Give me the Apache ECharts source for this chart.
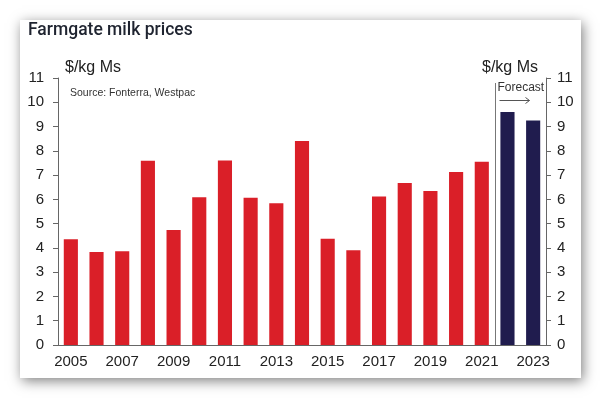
<!DOCTYPE html>
<html>
<head>
<meta charset="utf-8">
<script src="https://cdn.jsdelivr.net/npm/echarts@6/dist/echarts.min.js"></script>
<style>
  html, body { margin: 0; padding: 0; background: #fff; }
  #chart { width: 600px; height: 398px; }
</style>
</head>
<body>
<div id="chart"></div>
<script>
// farmgate milk price, $/kg MS
var years = ["2005", "2006", "2007", "2008", "2009", "2010", "2011", "2012", "2013", "2014",
  "2015", "2016", "2017", "2018", "2019", "2020", "2021", "2022", "2023"];
var prices = [4.36, 3.83, 3.86, 7.59, 4.74, 6.09, 7.6, 6.07, 5.84, 8.4,
  4.38, 3.9, 6.12, 6.67, 6.34, 7.13, 7.55, 9.6, 9.25];
var forecastFrom = "2022";
var yTicks = [0, 11, 1];

var chart = echarts.init(document.getElementById("chart"));
var firstForecast = years.indexOf(forecastFrom);

var barData = prices.map(function (v, i) {
  return {
    value: v,
    itemStyle: { color: i >= firstForecast ? "#201c4e" : "#da1f28" }
  };
});

var axisCommon = {
  type: "value",
  min: yTicks[0],
  max: yTicks[1],
  interval: yTicks[2],
  splitLine: { show: false },
  axisLine: { show: true, lineStyle: { color: "#666", width: 1 } },
  axisTick: { show: true, length: 5, lineStyle: { color: "#666" } },
  axisLabel: { color: "#222", fontSize: 15, fontFamily: "Liberation Sans" }
};

var option = {
  animation: false,
  backgroundColor: "#fff",
  grid: { left: 58, right: 54, top: 78, bottom: 53 },
  xAxis: {
    type: "category",
    data: years,
    axisLine: { lineStyle: { color: "#666" } },
    axisTick: { interval: 0, length: 5, lineStyle: { color: "#666" } },
    axisLabel: { interval: 1, color: "#222", fontSize: 15, margin: 9, fontFamily: "Liberation Sans" }
  },
  yAxis: [
    Object.assign({}, axisCommon, { position: "left", axisLabel: Object.assign({}, axisCommon.axisLabel, { margin: 14 }) }),
    Object.assign({}, axisCommon, { position: "right", axisLabel: Object.assign({}, axisCommon.axisLabel, { margin: 11 }) })
  ],
  series: [
    {
      type: "bar",
      data: barData,
      barWidth: "55%"
    }
  ],
  graphic: [
    {
      type: "rect",
      z: -10,
      shape: { x: 20, y: 20, width: 561, height: 358 },
      style: {
        fill: "#fff",
        shadowBlur: 12,
        shadowOffsetX: 2,
        shadowOffsetY: 3,
        shadowColor: "rgba(0,0,0,0.5)"
      }
    },
    {
      type: "text",
      left: 28,
      top: 22,
      style: { text: "Farmgate milk prices", fontSize: 17.5, fontWeight: 500, fill: "#1f2430", fontFamily: "Roboto" }
    },
    {
      type: "text",
      left: 65,
      top: 60,
      style: { text: "$/kg Ms", fontSize: 16, fill: "#222", fontFamily: "Liberation Sans" }
    },
    {
      type: "text",
      left: 482,
      top: 60,
      style: { text: "$/kg Ms", fontSize: 16, fill: "#222", fontFamily: "Liberation Sans" }
    },
    {
      type: "text",
      left: 70,
      top: 88,
      style: { text: "Source: Fonterra, Westpac", fontSize: 10.5, fill: "#333", fontFamily: "Liberation Sans" }
    }
  ]
};

chart.setOption(option);

// forecast divider between last actual and first forecast year
var xa = chart.convertToPixel({ xAxisIndex: 0 }, years[firstForecast - 1]);
var xb = chart.convertToPixel({ xAxisIndex: 0 }, years[firstForecast]);
var xLine = Math.round((xa + xb) / 2) + 0.5;
var yBase = chart.convertToPixel({ yAxisIndex: 0 }, 0);

chart.setOption({
  graphic: option.graphic.concat([
    {
      type: "line",
      shape: { x1: xLine, y1: 83, x2: xLine, y2: yBase },
      style: { stroke: "#777", lineWidth: 1 }
    },
    {
      type: "text",
      left: xLine + 2,
      top: 82,
      style: { text: "Forecast", fontSize: 12, fill: "#333", fontFamily: "Liberation Sans" }
    },
    {
      type: "line",
      shape: { x1: xLine + 4, y1: 100.5, x2: xLine + 34, y2: 100.5 },
      style: { stroke: "#555", lineWidth: 1 }
    },
    {
      type: "polyline",
      shape: { points: [[xLine + 30, 97.5], [xLine + 34, 100.5], [xLine + 30, 103.5]] },
      style: { stroke: "#555", lineWidth: 1, fill: null }
    }
  ])
});
</script>
</body>
</html>
